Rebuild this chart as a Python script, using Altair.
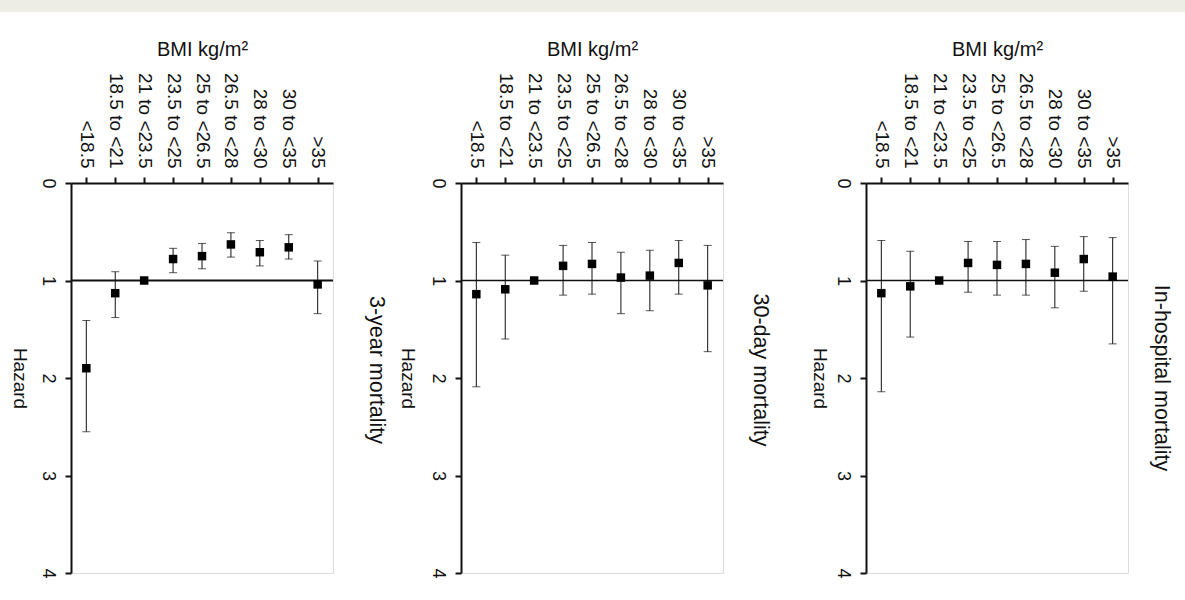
import altair as alt
import pandas as pd

# BMI categories (x axis, drawn at the top)
categories = ["<18.5", "18.5 to <21", "21 to <23.5", "23.5 to <25", "25 to <26.5",
              "26.5 to <28", "28 to <30", "30 to <35", ">35"]

# 3-year mortality: hazard ratio and 95% CI
three_year_hr = [1.90, 1.13, 1.00, 0.78, 0.75, 0.63, 0.71, 0.66, 1.04]
three_year_lo = [1.41, 0.91, None, 0.67, 0.62, 0.51, 0.59, 0.53, 0.80]
three_year_hi = [2.55, 1.38, None, 0.92, 0.88, 0.76, 0.85, 0.78, 1.34]

# 30-day mortality
thirty_day_hr = [1.14, 1.09, 1.00, 0.85, 0.83, 0.97, 0.95, 0.82, 1.05]
thirty_day_lo = [0.61, 0.74, None, 0.64, 0.61, 0.71, 0.69, 0.59, 0.64]
thirty_day_hi = [2.09, 1.60, None, 1.15, 1.14, 1.34, 1.31, 1.14, 1.73]

# In-hospital mortality
in_hosp_hr = [1.13, 1.06, 1.00, 0.82, 0.84, 0.83, 0.92, 0.78, 0.96]
in_hosp_lo = [0.59, 0.70, None, 0.60, 0.60, 0.58, 0.65, 0.55, 0.56]
in_hosp_hi = [2.14, 1.58, None, 1.12, 1.15, 1.15, 1.28, 1.11, 1.65]

hazard_ticks = [0, 1, 2, 3, 4]
reference_hazard = [1.0]

FONT = "Liberation Sans"
INK = "#111111"
BAND = "#eeede5"
PLOT_W, PLOT_H = 262, 390
LEFT_MARGIN, PAGE_W = 71, 1185


def panel(hr, lo, hi, title, ref_width, haz_title_x, right_offset, title_dx):
    df = pd.DataFrame({"bmi": categories, "hr": hr, "lo": lo, "hi": hi})
    x = alt.X(
        "bmi:N", sort=categories,
        scale=alt.Scale(type="point", padding=0.53),
        axis=alt.Axis(
            orient="top", title="BMI kg/m²", titleFontSize=20, titleFontWeight="normal",
            titleFont=FONT, titleColor=INK, titlePadding=13,
            labelAngle=90, labelAlign="right", labelBaseline="middle", labelPadding=9,
            labelFontSize=19, labelFont=FONT, labelColor=INK, labelOverlap=False,
            tickSize=6, tickWidth=2, tickColor=INK, domainWidth=2, domainColor=INK,
            grid=False,
        ),
    )
    yscale = alt.Scale(domain=[0, 4], reverse=True, nice=False, zero=False)
    yaxis = alt.Axis(
        orient="left", values=hazard_ticks, format="d",
        labelAngle=90, labelAlign="center", labelBaseline="top", labelPadding=9,
        labelFontSize=18, labelFont=FONT, labelColor=INK, labelFlush=False,
        tickSize=6, tickWidth=2, tickColor=INK, domainWidth=2, domainColor=INK, grid=False,
        title="Hazard", titleAngle=90, titleAlign="center", titleBaseline="top",
        titleX=haz_title_x, titleY=PLOT_H / 2, titleFontSize=19, titleFontWeight="normal",
        titleFont=FONT, titleColor=INK,
    )
    base = alt.Chart(df)
    ci = base.transform_filter("isValid(datum.lo)")
    ref = alt.Chart(pd.DataFrame({"ref": reference_hazard})).mark_rule(
        color=INK, strokeWidth=ref_width).encode(y=alt.Y("ref:Q", scale=yscale, axis=yaxis))
    bars = ci.mark_rule(color=INK, strokeWidth=1).encode(
        x=x, y=alt.Y("lo:Q", scale=yscale, axis=yaxis), y2="hi:Q")
    cap_lo = ci.mark_tick(color=INK, size=8, thickness=1, orient="horizontal").encode(
        x=x, y=alt.Y("lo:Q", scale=yscale, axis=yaxis))
    cap_hi = ci.mark_tick(color=INK, size=8, thickness=1, orient="horizontal").encode(
        x=x, y=alt.Y("hi:Q", scale=yscale, axis=yaxis))
    pts = base.mark_square(size=72, color="black", opacity=1, filled=True).encode(
        x=x, y=alt.Y("hr:Q", scale=yscale, axis=yaxis))
    return alt.layer(ref, bars, cap_lo, cap_hi, pts).properties(
        width=PLOT_W, height=PLOT_H,
        title=alt.TitleParams(title, orient="right", anchor="middle", frame="group",
                              angle=90, fontSize=21.5, fontWeight="normal", font=FONT,
                              color=INK, offset=right_offset, dx=title_dx),
    )


p1 = panel(three_year_hr, three_year_lo, three_year_hi, "3-year mortality", 2, -43, 31, -8)
p2 = panel(thirty_day_hr, thirty_day_lo, thirty_day_hi, "30-day mortality", 1.3, -45, 26, -8)
p3 = panel(in_hosp_hr, in_hosp_lo, in_hosp_hi, "In-hospital mortality", 1.3, -38, 22, 0)

# light header strip across the top of the page (decoration, not data)
band = alt.Chart(pd.DataFrame({"v": [0]})).mark_rect(color=BAND, clip=False).encode(
    x=alt.value(-LEFT_MARGIN), x2=alt.value(PAGE_W - LEFT_MARGIN),
    y=alt.value(0), y2=alt.value(12),
).properties(width=PAGE_W - LEFT_MARGIN, height=12,
             view=alt.ViewBackground(fill=BAND, stroke=None))

inner = alt.hconcat(p1, p2, spacing=128, bounds="flush")
row = alt.hconcat(inner, p3, spacing=36)

chart = alt.vconcat(band, row, spacing=26).properties(
    padding={"left": 0, "top": 0, "right": 0, "bottom": 0}
).configure_view(stroke=None).configure(background="white")

chart.save("out.html", embed_options={"renderer": "svg", "actions": False})
